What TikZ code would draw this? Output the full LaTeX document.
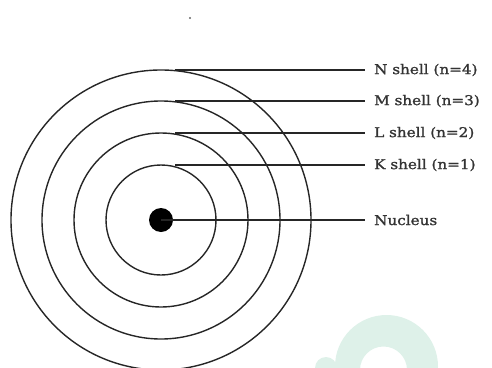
\documentclass[tikz,border=0pt]{standalone}
\usepackage{fontspec}
\usepackage{tikz}
\newfontfamily\shellfont[FakeStretch=1.13, FakeBold=1.3]{DejaVu Serif}
\colorlet{shellcol}{black!85}
\colorlet{labelcol}{black!80}
\definecolor{markcol}{RGB}{222,241,233}
\tikzset{
  shell/.style={line width=1.4bp, shellcol},
  leader/.style={line width=1.6bp, shellcol},
  shelllabel/.style={anchor=west, inner xsep=9bp, inner ysep=1bp,
    font=\shellfont\fontsize{13.5}{15}\selectfont, text=labelcol}
}

\begin{document}
\begin{tikzpicture}[x=1bp, y=1bp]

  \useasboundingbox (0,0) rectangle (492,367);
  \clip (0,0) rectangle (492,367);

  % Watermark in the corner.
  \fill[markcol, even odd rule] (386.5,0.5) circle (51.5) (383.5,-3) circle (23.5);
  \fill[markcol] (326,-1) circle (11);

  % Speck at the top.
  \fill[black!60] (190,349) circle (1.2);

  % Nucleus.
  \node[circle, fill=black, inner sep=0pt, minimum size=24bp] (nucleus) at (161,147) {};
  \node[shelllabel] (nuclab) at (365,147) {Nucleus};
  \draw[leader] (nucleus.center) -- (nuclab.west);

  % Shells with their labels.
  \foreach \s/\r/\txt in {K/55/K shell (n=1), L/87/L shell (n=2),
                          M/119/M shell (n=3), N/150/N shell (n=4)} {
    \draw[shell] (nucleus.center) circle (\r);
    \coordinate (\s top) at (175,147+\r);
    \node[shelllabel] (\s lab) at (365,147+\r) {\txt};
    \draw[leader] (\s top) -- (\s lab.west);
  }

\end{tikzpicture}
\end{document}
